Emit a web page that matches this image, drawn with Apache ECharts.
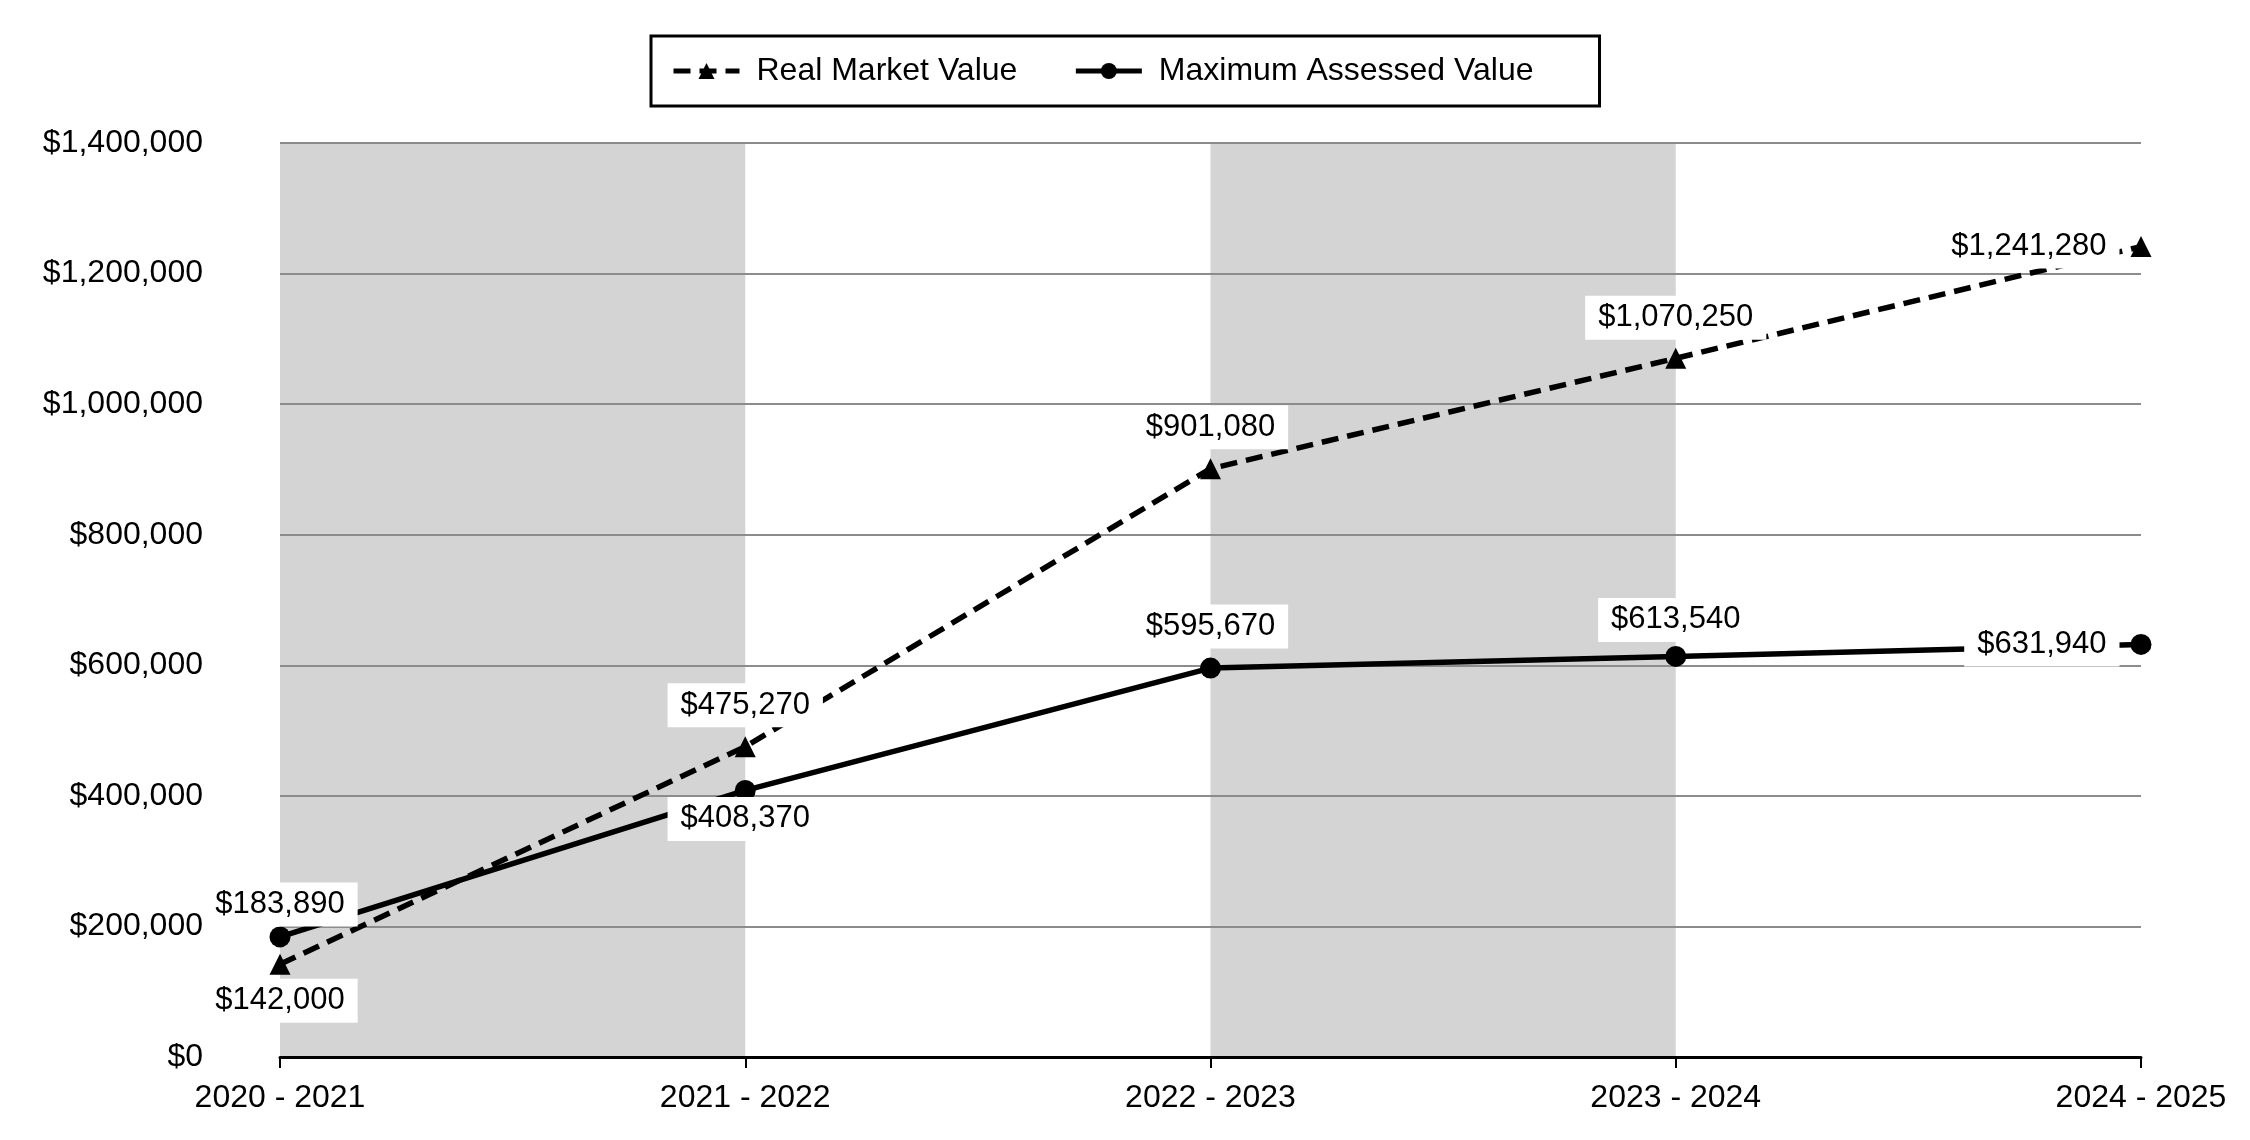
<!DOCTYPE html>
<html>
<head>
<meta charset="utf-8">
<script src="https://cdn.jsdelivr.net/npm/echarts@6/dist/echarts.min.js"></script>
<style>
  html, body { margin: 0; padding: 0; background: #fff; }
  #chart { width: 2250px; height: 1140px; }
</style>
</head>
<body>
<div id="chart"></div>
<script>
const categories = ['2020 - 2021', '2021 - 2022', '2022 - 2023', '2023 - 2024', '2024 - 2025'];
const realMarketValue = [142000, 475270, 901080, 1070250, 1241280];
const maxAssessedValue = [183890, 408370, 595670, 613540, 631940];
const yTicks = { min: 0, max: 1400000, interval: 200000 };

// label placement (style config, separate from data)
const rmvLabelPos = ['bottom', 'top', 'top', 'top', 'left'];
const rmvLabelDist = [4, 9, 9, 8, 11];
const mavLabelPos = ['top', 'bottom', 'top', 'top', 'left'];
const mavLabelDist = [0, -4, 9, 4, 11];

const FONT = "'Liberation Sans', Arial, sans-serif";
const money = v => '$' + Number(v).toLocaleString('en-US');

function buildData(values, pos, dist) {
  return values.map((v, i) => ({
    value: v,
    label: { position: pos[i], distance: dist[i] }
  }));
}

const labelBase = {
  show: true,
  color: '#000',
  fontFamily: FONT,
  fontSize: 31,
  lineHeight: 32,
  backgroundColor: '#fff',
  padding: [6, 13],
  formatter: p => money(p.value)
};

const chart = echarts.init(document.getElementById('chart'));
chart.setOption({
  animation: false,
  backgroundColor: '#fff',
  textStyle: { fontFamily: FONT },
  legend: {
    left: 651,
    top: 36,
    orient: 'horizontal',
    borderColor: '#000',
    borderWidth: 3,
    padding: [19, 66, 19, 20],
    itemWidth: 66,
    itemHeight: 20,
    itemGap: 56,
    lineStyle: { width: 5 },
    textStyle: { fontFamily: FONT, fontSize: 32, color: '#000', padding: [0, 0, 0, 12] },
    data: ['Real Market Value', 'Maximum Assessed Value']
  },
  grid: { left: 280, right: 109, top: 143, bottom: 83, containLabel: false },
  xAxis: {
    type: 'category',
    z: 0,
    boundaryGap: false,
    data: categories,
    axisLine: { show: true, lineStyle: { color: '#000', width: 3 } },
    axisTick: { show: true, length: 11, lineStyle: { color: '#000', width: 2 } },
    axisLabel: { color: '#000', fontFamily: FONT, fontSize: 32, margin: 25 },
    splitLine: { show: false },
    splitArea: { show: true, areaStyle: { color: ['#d4d4d4', 'rgba(255,255,255,0)'] } }
  },
  yAxis: {
    type: 'value',
    z: 1,
    min: yTicks.min,
    max: yTicks.max,
    interval: yTicks.interval,
    axisLine: { show: false },
    axisTick: { show: false },
    axisLabel: { color: '#000', fontFamily: FONT, fontSize: 32, margin: 77, formatter: v => money(v) },
    splitLine: { show: true, showMinLine: false, lineStyle: { color: '#8c8c8c', width: 2 } }
  },
  series: [
    {
      name: 'Real Market Value',
      type: 'line',
      data: buildData(realMarketValue, rmvLabelPos, rmvLabelDist),
      symbol: 'triangle',
      symbolSize: 21,
      itemStyle: { color: '#000' },
      lineStyle: { color: '#000', width: 5.5, type: [17, 9] },
      label: labelBase,
      z: 3
    },
    {
      name: 'Maximum Assessed Value',
      type: 'line',
      data: buildData(maxAssessedValue, mavLabelPos, mavLabelDist),
      symbol: 'circle',
      symbolSize: 21,
      itemStyle: { color: '#000' },
      lineStyle: { color: '#000', width: 5.5, type: 'solid' },
      label: labelBase,
      z: 4
    }
  ]
});
</script>
</body>
</html>
